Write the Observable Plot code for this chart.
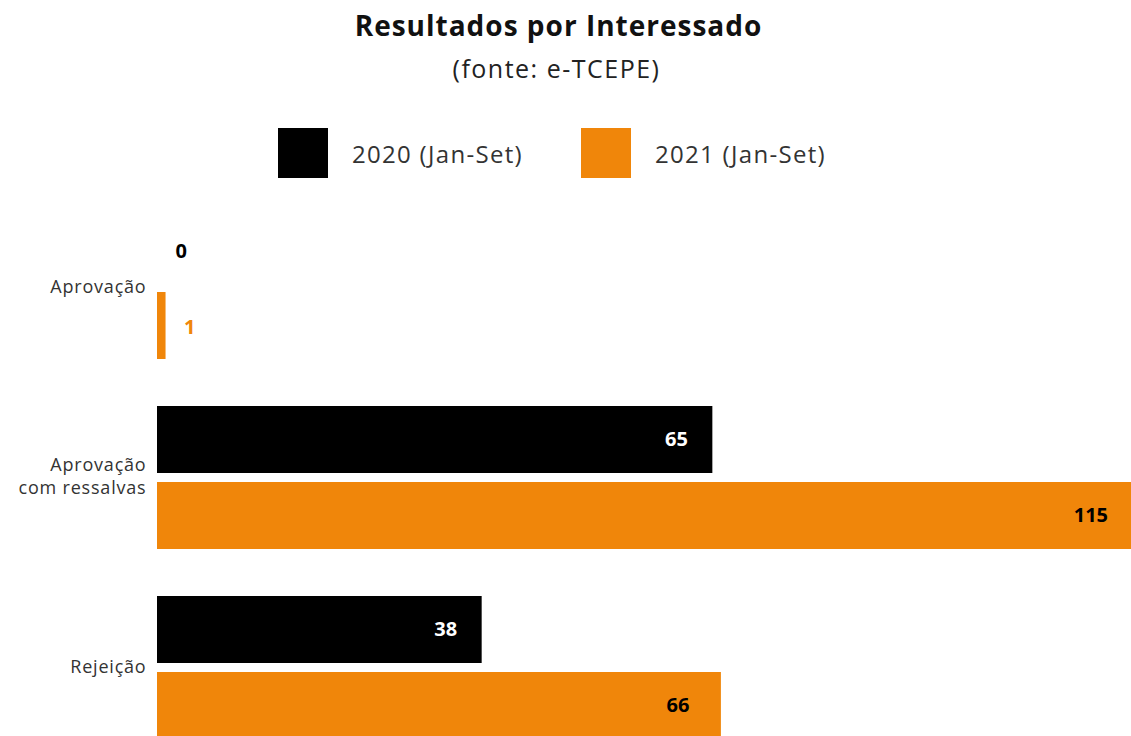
<!DOCTYPE html>
<html>
<head>
<meta charset="utf-8">
<script src="https://cdn.jsdelivr.net/npm/d3@7"></script>
<script src="https://cdn.jsdelivr.net/npm/@observablehq/plot@0.6"></script>
<style>
  html, body { margin: 0; padding: 0; background: #fff; overflow: hidden; }
  body { width: 1131px; height: 736px; position: relative; font-family: "Open Sans", "Noto Sans", sans-serif; }
  #title { position: absolute; left: 0; width: 1117px; top: 7px; line-height: 36px; text-align: center; font-size: 28px; font-weight: 700; color: #111; letter-spacing: 1px; }
  #subtitle { position: absolute; left: 0; width: 1113px; top: 51px; line-height: 34px; text-align: center; font-size: 25px; color: #222; letter-spacing: 1.5px; }
  #legend { position: absolute; left: 278px; top: 128px; height: 50px; display: flex; align-items: center; font-size: 24px; color: #333; letter-spacing: 1.3px; }
  .item { display: flex; align-items: center; width: 303px; }
  .sw { width: 50px; height: 50px; margin-right: 24px; flex: none; }
  #chart { position: absolute; left: 0; top: 200px; }
  #chart [aria-label="fy-axis tick label"] { letter-spacing: 0.8px; }
</style>
</head>
<body>
<div id="title">Resultados por Interessado</div>
<div id="subtitle">(fonte: e-TCEPE)</div>
<div id="legend"></div>
<div id="chart"></div>
<script>
const categories = ["Aprovação", "Aprovação com ressalvas", "Rejeição"];
const categoryLabels = ["Aprovação", "Aprovação\ncom ressalvas", "Rejeição"];
const series = ["2020 (Jan-Set)", "2021 (Jan-Set)"];
const values2020 = [0, 65, 38];
const values2021 = [1, 115, 66];
const colors = ["#000000", "#f0860a"];

const data = [];
categories.forEach((c, i) => {
  data.push({category: c, series: series[0], value: values2020[i]});
  data.push({category: c, series: series[1], value: values2021[i]});
});

// legend
const leg = document.getElementById("legend");
series.forEach((s, i) => {
  const it = document.createElement("div");
  it.className = "item";
  it.innerHTML = `<div class="sw" style="background:${colors[i]}"></div><span>${s}</span>`;
  leg.appendChild(it);
});

const inside = d => d.value >= 10;
const chart = Plot.plot({
  width: 1131,
  height: 545,
  marginLeft: 157,
  marginRight: 0,
  marginTop: 15,
  marginBottom: 3,
  style: {fontFamily: "'Open Sans', 'Noto Sans', sans-serif", fontSize: "18px", background: "#fff"},
  x: {domain: [0, 114], axis: null},
  y: {domain: series, axis: null, paddingInner: 0.117, paddingOuter: 0},
  fy: {domain: categories, paddingInner: 0.2408, paddingOuter: 0, axis: null, label: null},
  color: {domain: series, range: colors},
  marks: [
    Plot.barX(data, {x: "value", y: "series", fy: "category", fill: "series", clip: true}),
    Plot.text(data.filter(d => inside(d) && d.series === series[0]), {
      x: "value", y: "series", fy: "category", text: d => String(d.value),
      textAnchor: "end", dx: -25, fill: "#fff", fontWeight: 700, fontSize: 20
    }),
    Plot.text(data.filter(d => inside(d) && d.series === series[1]), {
      x: "value", y: "series", fy: "category", text: d => String(d.value),
      textAnchor: "end", dx: -32, fill: "#000", fontWeight: 700, fontSize: 20
    }),
    Plot.text(data.filter(d => !inside(d)), {
      x: "value", y: "series", fy: "category", text: d => String(d.value),
      textAnchor: "start", dx: 18, dy: 2, fill: "series", fontWeight: 700, fontSize: 20
    }),
    Plot.axisFy({
      anchor: "left", tickSize: 0, tickPadding: 11, label: null,
      fontSize: 18, lineHeight: 1.25, fill: "#333", dy: -3,
      tickFormat: d => categoryLabels[categories.indexOf(d)]
    })
  ]
});
document.getElementById("chart").appendChild(chart);
</script>
</body>
</html>
